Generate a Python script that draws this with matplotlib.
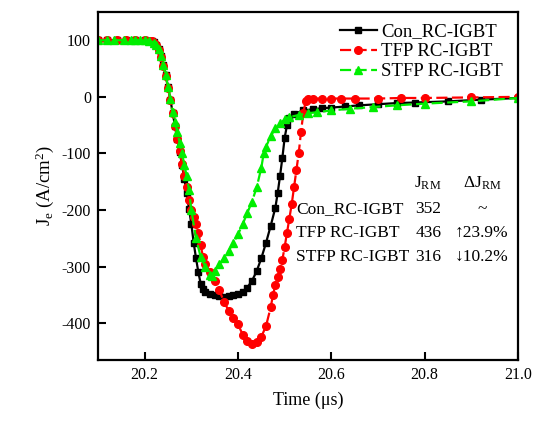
import matplotlib
matplotlib.use("Agg")
import matplotlib.pyplot as plt

plt.rcParams['font.family'] = ['Liberation Serif', 'DejaVu Serif']
plt.rcParams['mathtext.fontset'] = 'custom'
plt.rcParams['mathtext.rm'] = 'Liberation Serif'
plt.rcParams['mathtext.it'] = 'Liberation Serif:italic'
plt.rcParams['axes.unicode_minus'] = False

# data (time in us, Je in A/cm^2)
t_con = [20.10, 20.12, 20.14, 20.16, 20.18, 20.20, 20.21, 20.215, 20.22, 20.225,
         20.23, 20.235, 20.24, 20.245, 20.25, 20.255, 20.26, 20.265, 20.27, 20.275,
         20.28, 20.285, 20.29, 20.295, 20.30, 20.305, 20.31, 20.315, 20.32, 20.325,
         20.33, 20.34, 20.35, 20.36, 20.37, 20.38, 20.39, 20.40, 20.41, 20.42,
         20.43, 20.44, 20.45, 20.46, 20.47, 20.48, 20.485, 20.49, 20.495, 20.50,
         20.505, 20.51, 20.52, 20.54, 20.56, 20.58, 20.60, 20.63, 20.66, 20.70,
         20.74, 20.78, 20.85, 20.92, 21.00]
je_con = [100, 100, 100, 100, 100, 100, 99, 98, 97, 92,
          84, 72, 56, 38, 18, -5, -28, -52, -75, -98,
          -120, -145, -170, -198, -225, -258, -285, -310, -330, -340,
          -345, -348, -350, -352, -353, -352, -350, -348, -344, -337,
          -325, -308, -285, -258, -228, -196, -170, -140, -108, -72,
          -50, -38, -30, -24, -22, -20, -19, -17, -15, -13,
          -11, -10, -8, -5, -2]

t_tfp = [20.10, 20.12, 20.14, 20.16, 20.18, 20.20, 20.21, 20.215, 20.22, 20.225,
         20.23, 20.235, 20.24, 20.245, 20.25, 20.255, 20.26, 20.265, 20.27, 20.275,
         20.28, 20.285, 20.29, 20.295, 20.30, 20.305, 20.31, 20.315, 20.32, 20.325,
         20.33, 20.34, 20.35, 20.36, 20.37, 20.38, 20.39, 20.40, 20.41, 20.42,
         20.43, 20.44, 20.45, 20.46, 20.47, 20.475, 20.48, 20.485, 20.49, 20.495,
         20.50, 20.505, 20.51, 20.515, 20.52, 20.525, 20.53, 20.535, 20.54, 20.545,
         20.55, 20.56, 20.58, 20.60, 20.62, 20.65, 20.70, 20.75, 20.80, 20.90, 21.00]
je_tfp = [100, 100, 100, 100, 100, 100, 99, 98, 96, 91,
          83, 71, 55, 37, 16, -6, -28, -52, -74, -96,
          -118, -140, -160, -182, -200, -213, -225, -240, -262, -283,
          -295, -310, -325, -342, -362, -378, -390, -402, -420, -432,
          -436, -434, -424, -405, -372, -350, -332, -318, -305, -288,
          -265, -240, -215, -190, -160, -130, -100, -62, -28, -8,
          -3, -3, -3, -3, -3, -3, -3, -2, -2, -1, 0]

t_stfp = [20.10, 20.12, 20.135, 20.155, 20.17, 20.18, 20.19, 20.20, 20.21, 20.22,
          20.225, 20.23, 20.235, 20.24, 20.245, 20.25, 20.255, 20.26, 20.265, 20.27,
          20.275, 20.28, 20.285, 20.29, 20.295, 20.30, 20.31, 20.32, 20.33, 20.34,
          20.345, 20.35, 20.36, 20.37, 20.38, 20.39, 20.40, 20.41, 20.42, 20.43,
          20.44, 20.45, 20.455, 20.46, 20.47, 20.48, 20.49, 20.50, 20.51, 20.53,
          20.55, 20.57, 20.60, 20.64, 20.69, 20.74, 20.80, 20.90, 21.00]
je_stfp = [100, 100, 100, 100, 100, 100, 100, 100, 99, 96,
           92, 84, 72, 56, 38, 18, -4, -27, -45, -62,
           -81, -100, -120, -140, -165, -200, -250, -283, -300, -314,
           -316, -308, -296, -285, -272, -258, -243, -225, -205, -185,
           -160, -125, -100, -88, -70, -55, -47, -40, -36, -32,
           -29, -27, -24, -21, -18, -15, -12, -8, -2]

labels = ['Con_RC-IGBT', 'TFP RC-IGBT', 'STFP RC-IGBT']
jrm = ['352', '436', '316']
djrm = ['~', '\u219123.9%', '\u219310.2%']

fig = plt.figure(figsize=(5.4, 4.32), dpi=100)
ax = fig.add_axes([0.1815, 0.1667, 0.7778, 0.8056])

ax.plot(t_con, je_con, color='black', marker='s', markersize=5, lw=1.6,
        label=labels[0])
ax.plot(t_tfp, je_tfp, color='red', marker='o', markersize=5.5, lw=1.6,
        linestyle=(0, (5, 2)), label=labels[1])
ax.plot(t_stfp, je_stfp, color='#00ee00', marker='^', markersize=6, lw=1.6,
        linestyle=(0, (5, 2)), label=labels[2])

ax.set_xlim(20.1, 21.0)
ax.set_ylim(-465, 150)
ax.set_xticks([20.2, 20.4, 20.6, 20.8, 21.0])
ax.set_xticklabels(['20.2', '20.4', '20.6', '20.8', '21.0'])
ax.set_yticks([-400, -300, -200, -100, 0, 100])
ax.tick_params(direction='in', length=6, width=1.5, labelsize=11.5, pad=5)
for s in ax.spines.values():
    s.set_linewidth(1.6)

ax.set_xlabel('Time (\u03bcs)', fontsize=13, labelpad=6)
ax.set_ylabel(r'J$_{\rm e}$ (A/cm$^{2}$)', fontsize=13.5, labelpad=4)

ax.legend(loc='upper right', frameon=False, fontsize=13.5, handlelength=2.0,
          handletextpad=0.2, labelspacing=0.15, borderaxespad=0.2,
          bbox_to_anchor=(0.99, 1.0))

# J_RM summary table
ax.text(0.786, 0.509, r'J$_{\rm RM}$', transform=ax.transAxes, ha='center',
        va='center', fontsize=12.5)
ax.text(0.914, 0.509, r'$\Delta$J$_{\rm RM}$', transform=ax.transAxes,
        ha='center', va='center', fontsize=12.5)
rows_y = [0.434, 0.365, 0.296]
for lab, j, d, y in zip(labels, jrm, djrm, rows_y):
    ax.text(0.471, y, lab, transform=ax.transAxes, ha='left', va='center',
            fontsize=12.5)
    ax.text(0.786, y, j, transform=ax.transAxes, ha='center', va='center',
            fontsize=12.5)
    ax.text(0.914, y, d, transform=ax.transAxes, ha='center', va='center',
            fontsize=12.5)

fig.savefig('out.png', dpi=100)
